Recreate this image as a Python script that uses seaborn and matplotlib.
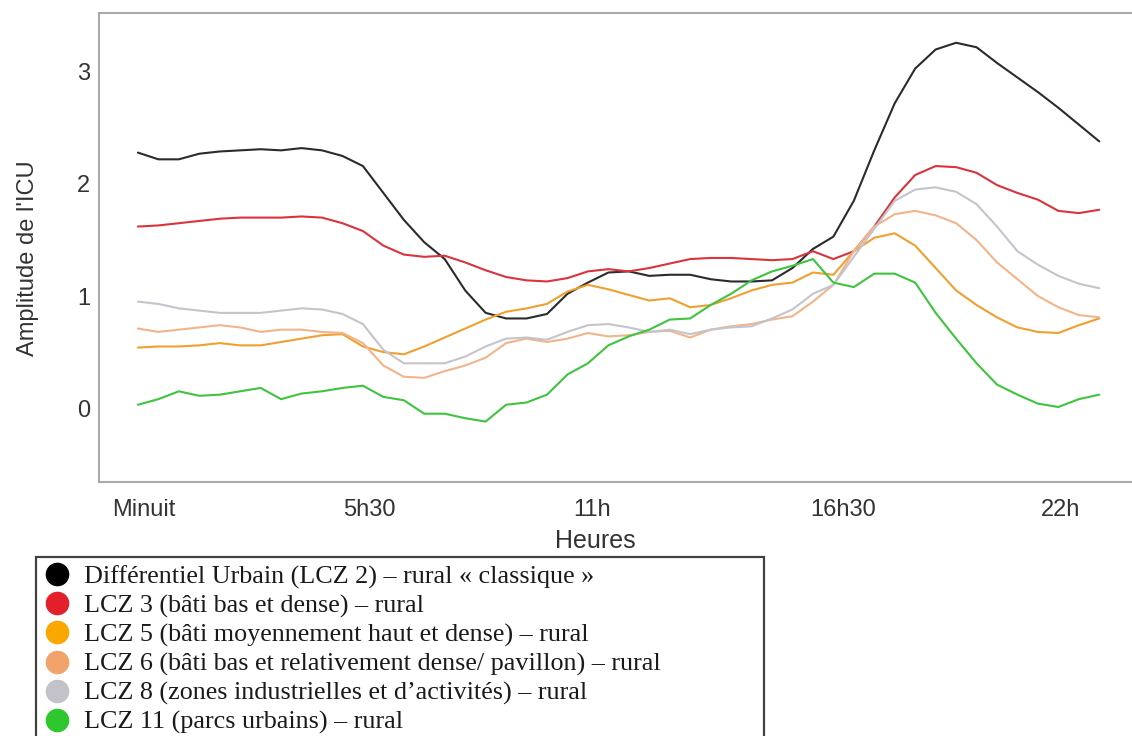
import numpy as np
import pandas as pd
import matplotlib
matplotlib.use("Agg")
import matplotlib.pyplot as plt
from matplotlib.lines import Line2D
import seaborn as sns

# Heures (pas de 30 min), de minuit a 23h30
hours = [i * 0.5 for i in range(48)]

lcz2 = [2.28, 2.22, 2.22, 2.27, 2.29, 2.30, 2.31, 2.30, 2.32, 2.30, 2.25, 2.16,
        1.92, 1.68, 1.48, 1.33, 1.05, 0.85, 0.80, 0.80, 0.84, 1.02, 1.12, 1.21,
        1.22, 1.18, 1.19, 1.19, 1.15, 1.13, 1.13, 1.14, 1.25, 1.42, 1.53, 1.85,
        2.30, 2.72, 3.03, 3.20, 3.26, 3.22, 3.08, 2.95, 2.82, 2.68, 2.53, 2.38]
lcz3 = [1.62, 1.63, 1.65, 1.67, 1.69, 1.70, 1.70, 1.70, 1.71, 1.70, 1.65, 1.58,
        1.45, 1.37, 1.35, 1.36, 1.30, 1.23, 1.17, 1.14, 1.13, 1.16, 1.22, 1.24,
        1.22, 1.25, 1.29, 1.33, 1.34, 1.34, 1.33, 1.32, 1.33, 1.40, 1.33, 1.40,
        1.62, 1.88, 2.08, 2.16, 2.15, 2.10, 1.99, 1.92, 1.86, 1.76, 1.74, 1.77]
lcz5 = [0.54, 0.55, 0.55, 0.56, 0.58, 0.56, 0.56, 0.59, 0.62, 0.65, 0.66, 0.55,
        0.50, 0.48, 0.55, 0.63, 0.71, 0.79, 0.86, 0.89, 0.93, 1.04, 1.10, 1.06,
        1.01, 0.96, 0.98, 0.90, 0.92, 0.98, 1.05, 1.10, 1.12, 1.21, 1.19, 1.40,
        1.52, 1.56, 1.45, 1.25, 1.05, 0.92, 0.81, 0.72, 0.68, 0.67, 0.74, 0.80]
lcz6 = [0.71, 0.68, 0.70, 0.72, 0.74, 0.72, 0.68, 0.70, 0.70, 0.68, 0.67, 0.58,
        0.38, 0.28, 0.27, 0.33, 0.38, 0.45, 0.58, 0.62, 0.59, 0.62, 0.67, 0.64,
        0.65, 0.68, 0.69, 0.63, 0.70, 0.73, 0.75, 0.79, 0.82, 0.95, 1.10, 1.40,
        1.62, 1.73, 1.76, 1.72, 1.65, 1.50, 1.30, 1.15, 1.00, 0.90, 0.83, 0.81]
lcz8 = [0.95, 0.93, 0.89, 0.87, 0.85, 0.85, 0.85, 0.87, 0.89, 0.88, 0.84, 0.75,
        0.52, 0.40, 0.40, 0.40, 0.46, 0.55, 0.62, 0.63, 0.61, 0.68, 0.74, 0.75,
        0.72, 0.68, 0.70, 0.66, 0.70, 0.72, 0.73, 0.80, 0.88, 1.02, 1.10, 1.35,
        1.60, 1.85, 1.95, 1.97, 1.93, 1.82, 1.62, 1.40, 1.28, 1.18, 1.11, 1.07]
lcz11 = [0.03, 0.08, 0.15, 0.11, 0.12, 0.15, 0.18, 0.08, 0.13, 0.15, 0.18, 0.20,
         0.10, 0.07, -0.05, -0.05, -0.09, -0.12, 0.03, 0.05, 0.12, 0.30, 0.40, 0.56,
         0.64, 0.70, 0.79, 0.80, 0.92, 1.02, 1.14, 1.22, 1.27, 1.33, 1.12, 1.08,
         1.20, 1.20, 1.12, 0.85, 0.62, 0.40, 0.21, 0.12, 0.04, 0.01, 0.08, 0.12]

series_names = ["LCZ 2", "LCZ 3", "LCZ 5", "LCZ 6", "LCZ 8", "LCZ 11"]
line_colors = ["#2b2b2b", "#d9343c", "#f0a030", "#f2b48a", "#c4c4cc", "#3ec43e"]
dot_colors = ["#000000", "#e3202a", "#f8a800", "#f2a36c", "#c2c2c8", "#2ec82e"]
legend_labels = [
    "Différentiel Urbain (LCZ 2) – rural « classique »",
    "LCZ 3 (bâti bas et dense) – rural",
    "LCZ 5 (bâti moyennement haut et dense) – rural",
    "LCZ 6 (bâti bas et relativement dense/ pavillon) – rural",
    "LCZ 8 (zones industrielles et d’activités) – rural",
    "LCZ 11 (parcs urbains) – rural",
]
xtick_pos = [0, 5.5, 11, 16.5, 22]
xtick_labels = ["Minuit", "5h30", "11h", "16h30", "22h"]
# les libelles de l'original sont un peu decales par rapport aux graduations
xlabel_pos = [0.15, 5.65, 11.1, 17.25, 22.55]

df = pd.DataFrame({"heure": hours * 6,
                   "amplitude": lcz2 + lcz3 + lcz5 + lcz6 + lcz8 + lcz11,
                   "zone": np.repeat(series_names, len(hours))})

sns.set_style("white")
plt.rcParams["font.family"] = ["Liberation Sans", "DejaVu Sans"]

fig = plt.figure(figsize=(11.32, 7.36), dpi=100)
ax = fig.add_axes([0.0875, 0.345, 0.9125, 0.638])

sns.lineplot(data=df, x="heure", y="amplitude", hue="zone", hue_order=series_names,
             palette=line_colors, linewidth=1.5, legend=False, ax=ax)

ax.set_xlim(-0.95, 24.3)
ax.set_ylim(-0.66, 3.53)
ax.set_xticks(xtick_pos)
ax.set_xticklabels([])
ax.set_xticks(xlabel_pos, minor=True)
ax.set_xticklabels(xtick_labels, minor=True)
ax.set_yticks([0, 1, 2, 3])
ax.tick_params(axis="both", colors="#aaaaaa", labelcolor="#333333", labelsize=17,
               length=3, width=1)
ax.tick_params(axis="y", pad=3.5)
ax.tick_params(axis="x", which="minor", length=0, pad=12, labelsize=17,
               labelcolor="#333333")
ax.set_xlabel("Heures", fontsize=18, color="#333333")
ax.xaxis.set_label_coords(0.48, -0.10)
ax.set_ylabel("Amplitude de l'ICU", fontsize=17, color="#333333")
ax.yaxis.set_label_coords(-0.058, 0.477)
for side in ["left", "top", "bottom"]:
    ax.spines[side].set_color("#aaaaaa")
    ax.spines[side].set_linewidth(1.5)
ax.spines["right"].set_visible(False)

handles = [Line2D([0], [0], marker="o", linestyle="none", markersize=16,
                  markerfacecolor=c, markeredgecolor=c) for c in dot_colors]
leg = fig.legend(handles, legend_labels, loc="upper left",
                 bbox_to_anchor=(36 / 1132, 0, (764 - 36) / 1132, 1 - 557 / 736),
                 bbox_transform=fig.transFigure, mode="expand",
                 frameon=True, fancybox=False,
                 prop={"family": "Liberation Serif", "size": 18.8},
                 handlelength=1.0, handletextpad=0.55, labelspacing=0.21,
                 borderpad=0.3, borderaxespad=0, alignment="left")
leg.get_frame().set_edgecolor("#111111")
leg.get_frame().set_linewidth(1.6)
for t in leg.get_texts():
    t.set_color("#1a1a1a")

fig.savefig("out.png", dpi=100)
